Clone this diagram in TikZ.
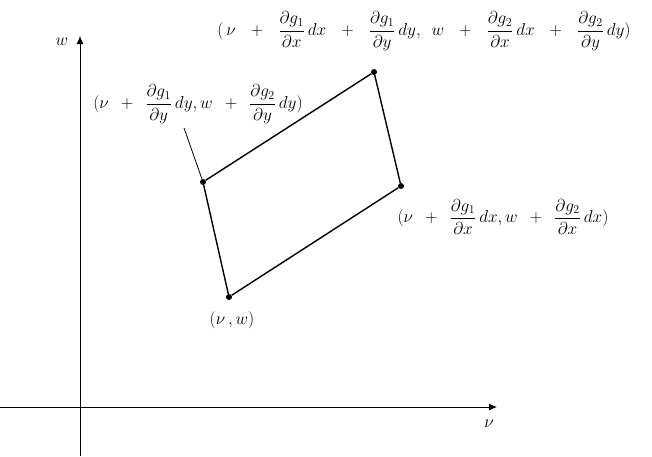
\documentclass[tikz,border=0pt]{standalone}
\usepackage{amsmath}
\usetikzlibrary{arrows.meta}
\newcommand{\pls}[1]{\mathord{\hspace{#1}+\hspace{#1}}}
\newcommand{\fr}[2]{\dfrac{\partial g_{#1}}{\partial #2}\,d#2}
\begin{document}
\begin{tikzpicture}[x=1pt,y=-1pt,
  axis/.style={line width=0.9pt,-{Latex[length=8pt,width=7pt]}},
  edge/.style={line width=1.4pt},
  vtx/.style={circle,fill=black,inner sep=0pt,minimum size=6pt},
  lbl/.style={inner sep=0pt,font=\fontsize{18}{21}\selectfont}]
\useasboundingbox (0,0) rectangle (652,456);
\coordinate (xs) at (0,407);
\coordinate (xe) at (497,407);
\coordinate (ys) at (80,456);
\coordinate (ye) at (80,36);
\draw[axis] (xs) -- (xe);
\draw[axis] (ys) -- (ye);
\node[lbl] (wl) at (62,42) {$w$};
\node[lbl] (vl) at (489,424) {$\nu$};
\node[vtx] (A) at (229,297) {};
\node[vtx] (B) at (203,182) {};
\node[vtx] (C) at (374,72) {};
\node[vtx] (D) at (401,186) {};
\draw[edge] (A) -- (B) -- (C) -- (D) -- (A);
\node[lbl] (la) at (232,320) {$(\nu\,,w)$};
\node[lbl] (lc) at (424,31) {$(\,\nu\pls{15pt}\fr{1}{x}\pls{15pt}\fr{1}{y},\hspace{8pt}w\pls{15pt}\fr{2}{x}\pls{15pt}\fr{2}{y})$};
\node[lbl] (lb) at (198,104) {$(\nu\pls{12pt}\fr{1}{y},w\pls{12pt}\fr{2}{y})$};
\node[lbl] (ld) at (503,217) {$(\nu\pls{12pt}\fr{1}{x},w\pls{12pt}\fr{2}{x})$};
\coordinate (t1) at (184,128);
\draw[line width=0.8pt] (t1) -- (B);
\end{tikzpicture}
\end{document}
